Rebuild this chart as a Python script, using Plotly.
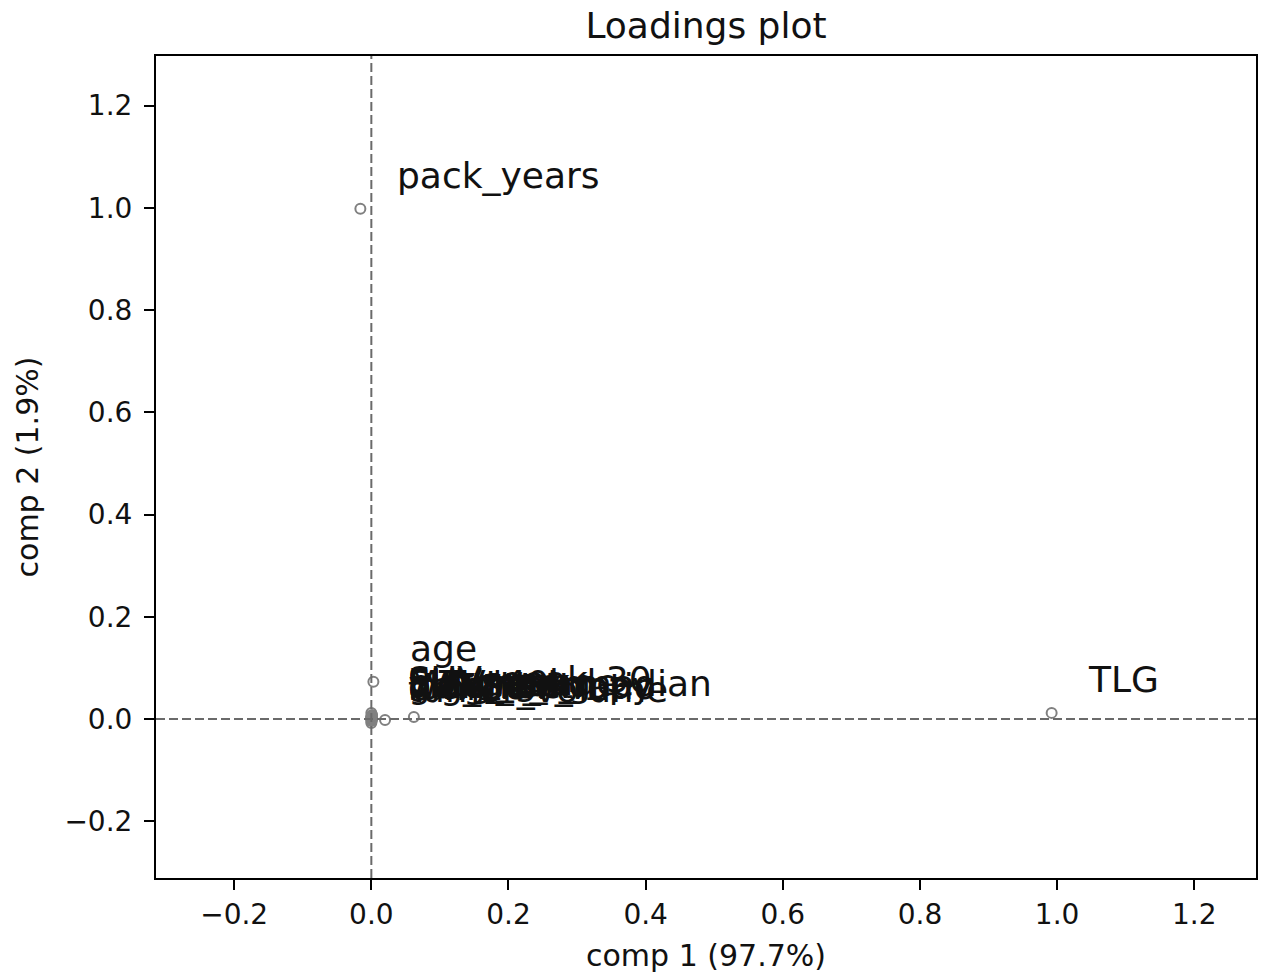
import plotly.graph_objects as go

# PCA loadings of each input variable on the first two components
variables = [
    "pack_years", "TLG", "age",
    "SUVmax", "SUVmean", "SUVpeak", "MTV", "SUV_peak_30",
    "bmi", "height_cm", "weight_kg", "tumor_volume", "glcm_entropy",
    "histo_grade", "log_SUV_ratio", "MTV_40", "tumor_median",
]
comp1 = [
    -0.016, 0.992, 0.003,
    0.001, 0.000, 0.001, 0.020, 0.000,
    0.000, 0.000, 0.001, 0.000, 0.000,
    0.000, 0.001, 0.000, 0.062,
]
comp2 = [
    0.998, 0.012, 0.073,
    0.008, 0.004, 0.006, -0.002, 0.012,
    -0.004, 0.000, 0.002, -0.008, 0.001,
    0.005, -0.002, 0.003, 0.004,
]
var_explained = [97.7, 1.9]

label_dx = 0.05
label_dy = 0.045
font = "DejaVu Sans"

fig = go.Figure()

fig.add_trace(go.Scatter(
    x=comp1, y=comp2, mode="markers",
    marker=dict(symbol="circle-open", size=10, color="#808080",
                line=dict(width=2, color="#808080")),
    hovertext=variables, showlegend=False,
))

# reference lines through the origin
fig.add_hline(y=0, line=dict(color="#6a6a6a", width=2, dash="9px,4px"))
fig.add_vline(x=0, line=dict(color="#6a6a6a", width=2, dash="9px,4px"))

for name, cx, cy in zip(variables, comp1, comp2):
    fig.add_annotation(
        x=cx + label_dx, y=cy + label_dy, text=name, showarrow=False,
        xanchor="left", yanchor="bottom", yshift=-12,
        font=dict(family=font, size=36, color="#111111"),
    )

ticks = [-0.2, 0.0, 0.2, 0.4, 0.6, 0.8, 1.0, 1.2]
axis_common = dict(
    tickvals=ticks, tickformat=".1f",
    showgrid=False, zeroline=False,
    showline=True, linecolor="black", linewidth=2, mirror=True,
    ticks="outside", ticklen=10, tickwidth=2, tickcolor="black",
    tickfont=dict(family=font, size=28, color="#111111"),
)

fig.update_layout(
    width=1263, height=978,
    margin=dict(l=156, r=5, t=56, b=100),
    paper_bgcolor="white", plot_bgcolor="white",
    title=dict(text="Loadings plot", x=0.559, xanchor="center",
               y=0.987, yanchor="top",
               font=dict(family=font, size=36, color="#111111")),
    xaxis=dict(range=[-0.314, 1.29],
               title=dict(text=f"comp 1 ({var_explained[0]}%)", standoff=15,
                          font=dict(family=font, size=30, color="#111111")),
               **axis_common),
    yaxis=dict(range=[-0.311, 1.297], ticklabelstandoff=6,
               title=dict(text=f"comp 2 ({var_explained[1]}%)", standoff=17,
                          font=dict(family=font, size=30, color="#111111")),
               **axis_common),
)

fig.write_html("out.html")
